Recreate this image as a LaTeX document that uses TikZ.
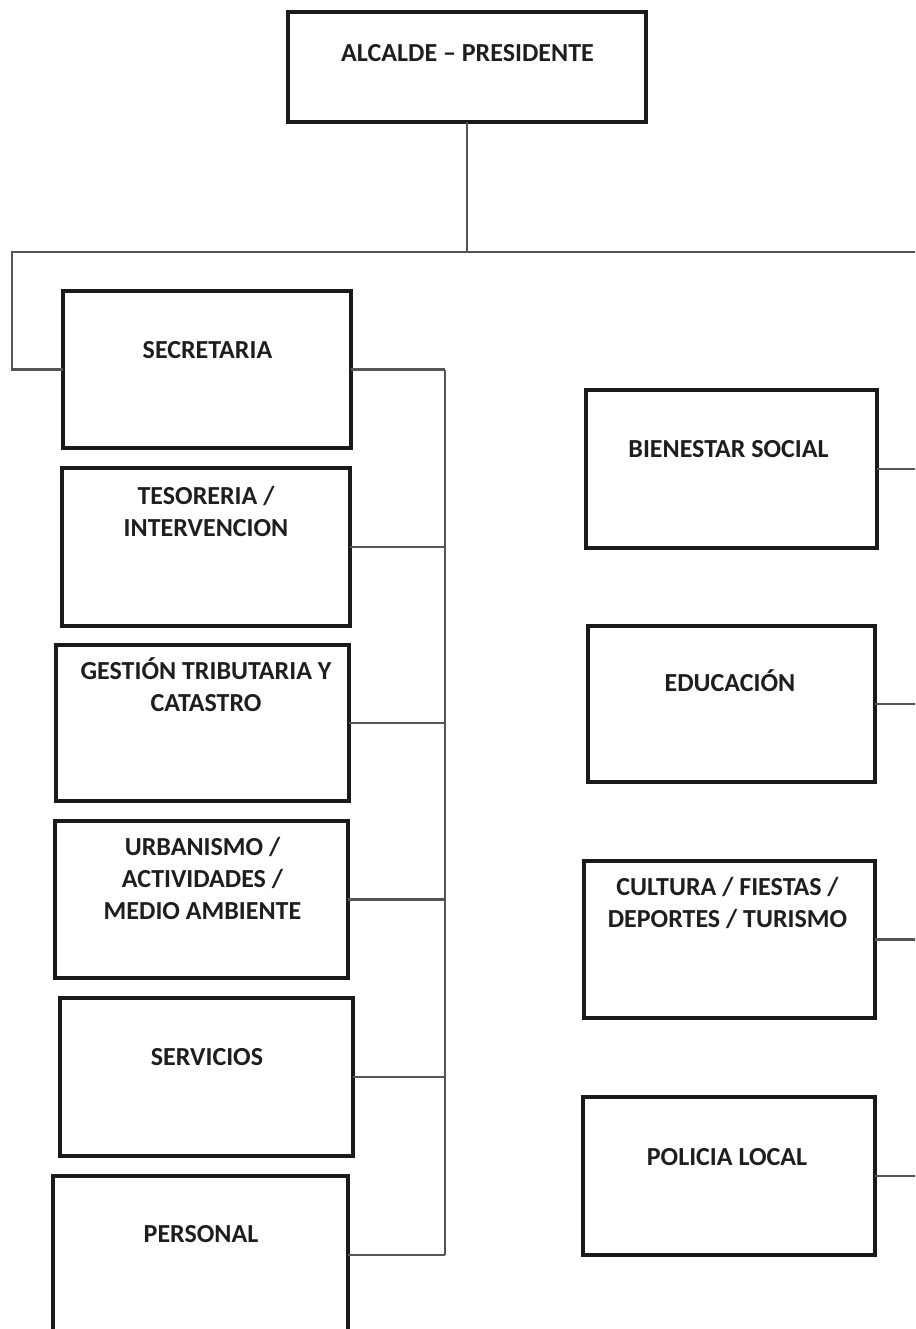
\documentclass[tikz,border=0pt]{standalone}
\usepackage{fontspec}
\setmainfont{Carlito}
\definecolor{boxc}{HTML}{1A1A1A}
\definecolor{linec}{HTML}{555555}
\definecolor{txtc}{HTML}{1E1E1E}
\begin{document}
\begin{tikzpicture}[x=1pt,y=-1pt,
  box/.style={draw=boxc,line width=3.2pt,inner sep=0pt,outer sep=0pt,fill=white},
  lbl/.style={inner sep=0pt,align=center,text=txtc,font=\fontsize{26}{32}\selectfont\bfseries},
  conn/.style={draw=linec,line width=2.2pt}]
\useasboundingbox (0,0) rectangle (915,1329);
\clip (0,0) rectangle (915,1329);
% boxes
\node[box,minimum width=358pt,minimum height=110pt] (alc) at (467,67) {};
\node[box,minimum width=288pt,minimum height=157pt] (sec) at (207,369.5) {};
\node[box,minimum width=288pt,minimum height=158pt] (tes) at (206,547) {};
\node[box,minimum width=293pt,minimum height=156pt] (ges) at (202.5,723) {};
\node[box,minimum width=293pt,minimum height=157pt] (urb) at (201.5,899.5) {};
\node[box,minimum width=293pt,minimum height=158pt] (ser) at (206.5,1077) {};
\node[box,minimum width=295pt,minimum height=158pt] (per) at (200.5,1255) {};
\node[box,minimum width=291pt,minimum height=158pt] (bie) at (731.5,469) {};
\node[box,minimum width=287pt,minimum height=156pt] (edu) at (731.5,704) {};
\node[box,minimum width=291pt,minimum height=157pt] (cul) at (729.5,939.5) {};
\node[box,minimum width=292pt,minimum height=158pt] (pol) at (729,1176) {};
% labels
\node[lbl] (talc) at (467.5,53) {ALCALDE -- PRESIDENTE};
\node[lbl] (tsec) at (207.5,350) {SECRETARIA};
\node[lbl] (ttes) at (206,511) {TESORERIA /\\INTERVENCION};
\node[lbl] (tges) at (206,685) {GESTIÓN TRIBUTARIA Y\\CATASTRO};
\node[lbl] (turb) at (202.5,878.5) {URBANISMO /\\ACTIVIDADES /\\MEDIO AMBIENTE};
\node[lbl] (tser) at (207,1057) {SERVICIOS};
\node[lbl] (tper) at (201,1234) {PERSONAL};
\node[lbl] (tbie) at (728.5,449) {BIENESTAR SOCIAL};
\node[lbl] (tedu) at (730,681) {EDUCACIÓN};
\node[lbl] (tcul) at (727.5,903) {CULTURA / FIESTAS /\\DEPORTES / TURISMO};
\node[lbl] (tpol) at (727,1157) {POLICIA LOCAL};
% coordinates
\coordinate (top) at (467,252);
\coordinate (lft) at (12,252);
\coordinate (rgt) at (920,252);
\coordinate (busx) at (445,0);
\coordinate (edge) at (920,0);
% connectors
\draw[conn] (alc.south) -- (top);
\draw[conn] (rgt) -- (lft) |- (sec.west);
\draw[conn] (sec.east -| busx) -- (per.east -| busx);
\foreach \b in {sec,tes,ges,urb,ser,per}{\draw[conn] (\b.east) -- (\b.east -| busx);}
\foreach \b in {bie,edu,cul,pol}{\draw[conn] (\b.east) -- (\b.east -| edge);}
\end{tikzpicture}
\end{document}
